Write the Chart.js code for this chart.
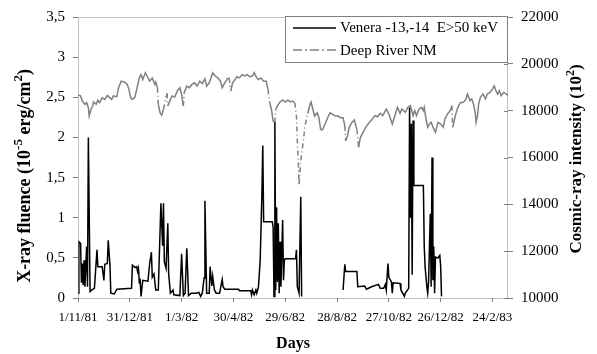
<!DOCTYPE html>
<html>
<head>
<meta charset="utf-8">
<script src="https://cdn.jsdelivr.net/npm/chart.js@4.4.1/dist/chart.umd.min.js"></script>
<style>
    html, body { margin: 0; padding: 0; background: #ffffff; }
    #contenedor { width: 597px; height: 354px; }
</style>
</head>
<body>
<div id="contenedor"><canvas id="grafica" width="597" height="354"></canvas></div>
<script>
// Días contados desde el 1/11/81
const etiquetasDias = ["1/11/81", "31/12/81", "1/3/82", "30/4/82", "29/6/82", "28/8/82", "27/10/82", "26/12/82", "24/2/83"];

// Venera -13,-14, fluencia de rayos X (10^-5 erg/cm^2)
const veneraDias = [0, 1, 3, 4, 5, 6, 7, 8, 10, 11, 12, 14, 16, 19, 22, 23, 28, 30, 31, 34, 35, 37, 38, 42, 45, 62, 63, 66, 68, 69, 70, 71, 72, 73, 75, 81, 83, 85, 86, 88, 90, 93, 96, 98, 99, 100, 102, 104, 105, 107, 110, 111, 118, 120, 122, 124, 126, 128, 131, 137, 140, 142, 144, 146, 147, 149, 152, 153, 155, 156, 158, 160, 164, 167, 168, 170, 186, 187, 200, 201, 202, 204, 206, 207, 209, 211, 213, 214, 215, 225, 226, 227, 228, 229, 230, 231, 232, 233, 234, 235, 237, 238, 239, 240, 252, 253, 254, 256, 258, 259, 280, 307, 309, 310, 323, 324, 332, 334, 340, 348, 350, 354, 356, 357, 359, 360, 363, 364, 365, 373, 374, 378, 379, 383, 384, 385, 386, 387, 388, 389, 400, 401, 402, 404, 405, 406, 408, 409, 410, 411, 412, 413, 414, 417, 419, 420, 421];
const veneraFluencia = [0.06, 0.70, 0.68, 0.19, 0.43, 0.16, 0.47, 0.14, 0.64, 0.14, 2.0, 0.08, 0.1, 0.12, 0.6, 0.39, 0.39, 0.22, 0.42, 0.43, 0.72, 0.41, 0.06, 0.05, 0.11, 0.12, 0.41, 0.38, 0.39, 0.33, 0.37, 0.2, 0.22, 0.02, 0.22, 0.21, 0.43, 0.57, 0.26, 0.3, 0.1, 0.1, 1.18, 0.65, 1.18, 0.45, 0.37, 0.93, 0.3, 0.06, 0.1, 0.04, 0.03, 0.55, 0.03, 0.06, 0.62, 0.03, 0.06, 0.06, 0.07, 0.02, 0.06, 0.25, 1.21, 0.06, 0.06, 0.39, 0.15, 0.27, 0.1, 0.06, 0.06, 0.23, 0.14, 0.11, 0.11, 0.09, 0.09, 0.04, 0.1, 0.04, 0.1, 0.06, 0.14, 0.47, 1.3, 1.9, 0.95, 0.95, 0.88, 0.02, 2.19, 0.1, 1.13, 0.2, 0.93, 0.06, 0.7, 0.14, 0.97, 0.22, 0.47, 0.49, 0.49, 0.6, 0.14, 0.06, 1.26, 0.02, null, 0.1, 0.42, 0.33, 0.33, 0.14, 0.15, 0.11, 0.14, 0.17, 0.12, 0.12, 0.17, 0.1, 0.43, 0.26, 0.2, 0.06, 0.19, 0.18, 0.1, 0.02, 0.06, 0.12, 2.37, 1.0, 2.17, 0.29, 2.21, 1.4, 1.4, 0.64, 0.39, 0.14, 0.06, 0.2, 1.05, 0.14, 1.75, 0.22, 0.64, 0.06, 0.51, 0.5, 0.53, 0.4, 0.02];

// Monitor de neutrones Deep River (10^2)
const deepRiverDias = [0, 3, 5, 8, 10, 12, 13, 15, 17, 18, 21, 23, 25, 28, 31, 34, 36, 39, 41, 45, 47, 50, 54, 57, 59, 61, 63, 66, 68, 71, 73, 75, 78, 80, 83, 86, 89, 90, 92, 93, 95, 97, 99, 102, 103, 104, 107, 109, 112, 115, 118, 120, 122, 123, 126, 129, 132, 135, 138, 141, 144, 147, 149, 152, 156, 159, 162, 165, 167, 169, 170, 173, 175, 177, 179, 182, 184, 187, 190, 193, 196, 199, 202, 204, 207, 209, 212, 215, 218, 220, 222, 224, 226, 228, 229, 232, 234, 237, 240, 243, 246, 249, 251, 253, 254, 255, 256, 258, 261, 263, 266, 269, 270, 272, 274, 277, 279, 281, 283, 286, 290, 292, 295, 298, 301, 304, 307, 309, 310, 312, 314, 317, 320, 323, 325, 327, 330, 333, 336, 340, 344, 347, 350, 353, 357, 360, 364, 367, 370, 373, 375, 379, 382, 385, 386, 388, 390, 392, 395, 398, 400, 401, 403, 405, 407, 409, 412, 414, 417, 420, 423, 425, 428, 431, 433, 434, 437, 440, 443, 446, 449, 451, 454, 456, 458, 460, 461, 463, 464, 466, 469, 472, 474, 477, 480, 482, 484, 486, 488, 490, 493, 496, 498];
const deepRiverIntensidad = [18670, 18630, 18410, 18270, 18340, 18130, 17770, 18060, 18200, 18370, 18270, 18440, 18340, 18550, 18480, 18650, 18580, 18480, 18630, 18600, 18980, 19260, 19220, 19120, 18910, 18550, 18480, 18580, 18910, 19400, 19540, 19330, 19620, 19480, 19260, 19400, 19120, 19220, 18980, 18270, 17910, 17800, 18060, 18630, 18740, 18200, 18480, 18630, 18580, 18840, 18980, 18690, 18200, 18770, 19050, 18980, 19120, 19190, 19050, 19260, 19160, 19360, 19050, 19190, 19620, 19480, 19400, 19260, 18980, 19120, 19190, 19360, 19400, 18840, 19190, 19330, 19450, 19400, 19540, 19480, 19540, 19450, 19480, 19620, 19400, 19330, 19400, 19260, 19260, 18910, 18340, 18060, 17560, 17490, 18060, 18270, 18370, 18460, 18370, 18460, 18370, 18410, 18340, 17770, 16720, 15870, 14810, 15870, 16720, 17360, 17870, 18300, 18370, 18060, 17770, 17910, 17700, 17200, 17180, 17420, 17770, 17910, 17840, 17770, 17770, 17700, 17700, 17350, 16710, 16920, 17280, 17490, 17600, 17200, 16430, 16850, 17060, 17280, 17430, 17600, 17790, 17740, 17890, 17790, 18070, 17860, 17430, 17790, 18140, 17890, 18070, 17930, 18140, 18210, 18070, 17790, 18000, 17790, 18070, 18140, 18000, 18140, 17650, 17290, 17430, 17500, 17220, 17080, 17500, 17430, 17290, 17650, 17860, 18000, 18210, 17290, 17790, 18140, 18350, 18350, 18460, 18710, 18430, 18500, 18290, 17930, 17500, 17860, 18290, 18570, 18710, 18500, 18710, 18780, 18920, 19060, 18850, 18710, 18850, 18640, 18780, 18710, 18640];

const familia = "'Liberation Serif', 'Times New Roman', serif";
const guionPunto = [5, 3, 1, 3];

function aPuntos(xs, ys) {
    return xs.map((d, i) => ({ x: d, y: ys[i] }));
}

// Texto con superíndices, centrado en (cx, cy) y girado
function textoRico(ctx, partes, size, cx, cy, angulo) {
    const normal = `bold ${size}px ${familia}`;
    const chica = `bold ${Math.round(size * 0.7)}px ${familia}`;
    ctx.save();
    ctx.translate(cx, cy);
    ctx.rotate(angulo);
    let total = 0;
    partes.forEach(p => {
        ctx.font = p.sup ? chica : normal;
        total += ctx.measureText(p.t).width;
    });
    let x = -total / 2;
    ctx.fillStyle = "#000";
    ctx.textAlign = "left";
    ctx.textBaseline = "middle";
    partes.forEach(p => {
        ctx.font = p.sup ? chica : normal;
        ctx.fillText(p.t, x, p.sup ? -size * 0.38 : 0);
        x += ctx.measureText(p.t).width;
    });
    ctx.restore();
}

const marcoPlugin = {
    id: "marco",
    afterDatasetsDraw(chart) {
        const { ctx, chartArea: a } = chart;
        ctx.save();
        ctx.strokeStyle = "#808080";
        ctx.lineWidth = 1;
        ctx.setLineDash([1, 1]);
        ctx.strokeRect(a.left + 0.5, a.top + 0.5, a.right - a.left - 1, a.bottom - a.top);
        ctx.setLineDash([]);
        // marcas interiores del eje derecho
        const der = chart.scales.yDer;
        der.ticks.forEach(t => {
            const y = Math.round(der.getPixelForValue(t.value)) + 0.5;
            ctx.beginPath();
            ctx.moveTo(a.right - 4, y);
            ctx.lineTo(a.right, y);
            ctx.stroke();
        });
        ctx.restore();
    },
    afterDraw(chart) {
        const { ctx } = chart;
        // leyenda
        ctx.save();
        const caja = { x: 285.5, y: 16.5, w: 222, h: 46 };
        ctx.fillStyle = "#ffffff";
        ctx.fillRect(caja.x, caja.y, caja.w, caja.h);
        ctx.strokeStyle = "#808080";
        ctx.lineWidth = 1;
        ctx.strokeRect(caja.x, caja.y, caja.w, caja.h);

        ctx.strokeStyle = "#000000";
        ctx.lineWidth = 1.5;
        ctx.beginPath();
        ctx.moveTo(293, 28);
        ctx.lineTo(336, 28);
        ctx.stroke();

        ctx.strokeStyle = "#808080";
        ctx.setLineDash([9, 3, 2, 3]);
        ctx.beginPath();
        ctx.moveTo(293, 50);
        ctx.lineTo(336, 50);
        ctx.stroke();
        ctx.setLineDash([]);

        ctx.fillStyle = "#000";
        ctx.font = `15px ${familia}`;
        ctx.textAlign = "left";
        ctx.textBaseline = "middle";
        ctx.fillText("Venera -13,-14  E>50 keV", 340, 28);
        ctx.fillText("Deep River NM", 340, 51);
        ctx.restore();

        // títulos de los ejes verticales
        textoRico(ctx, [
            { t: "X-ray fluence (10" }, { t: "-5", sup: true },
            { t: " erg/cm" }, { t: "2", sup: true }, { t: ")" }
        ], 18, 25, 176, -Math.PI / 2);
        textoRico(ctx, [
            { t: "Cosmic-ray intensity (10" }, { t: "2", sup: true }, { t: ")" }
        ], 17, 577, 159, -Math.PI / 2);
    }
};

Chart.defaults.font.family = familia;
Chart.defaults.color = "#000";

new Chart(document.getElementById("grafica"), {
    type: "line",
    data: {
        datasets: [
            {
                label: "Venera -13,-14  E>50 keV",
                data: aPuntos(veneraDias, veneraFluencia),
                yAxisID: "yIzq",
                borderColor: "#000000",
                borderWidth: 1.5,
                pointRadius: 0,
                tension: 0,
                spanGaps: false
            },
            {
                label: "Deep River NM",
                data: aPuntos(deepRiverDias, deepRiverIntensidad),
                yAxisID: "yDer",
                borderColor: "#808080",
                borderWidth: 1.5,
                pointRadius: 0,
                tension: 0,
                segment: {
                    borderDash: ctx => Math.hypot(ctx.p1.x - ctx.p0.x, ctx.p1.y - ctx.p0.y) > 12 ? guionPunto : undefined
                }
            }
        ]
    },
    options: {
        responsive: false,
        devicePixelRatio: 1,
        animation: false,
        layout: { padding: { top: 16, left: 0, right: 0, bottom: 0 } },
        plugins: {
            legend: { display: false },
            tooltip: { enabled: false }
        },
        scales: {
            x: {
                type: "linear",
                min: 0,
                max: 498,
                afterFit: s => { s.height = 56; },
                border: { display: false },
                grid: { drawOnChartArea: false, tickLength: 4, color: "#808080" },
                ticks: {
                    stepSize: 60,
                    includeBounds: false,
                    autoSkip: false,
                    maxRotation: 0,
                    padding: 8,
                    font: { size: 13 },
                    callback: v => etiquetasDias[v / 60] ?? ""
                },
                title: {
                    display: true,
                    text: "Days",
                    font: { size: 16, weight: "bold" },
                    padding: { top: 0, bottom: 1 }
                }
            },
            yIzq: {
                position: "left",
                min: 0,
                max: 3.5,
                afterFit: s => { s.width = 78; },
                border: { display: false },
                grid: { drawOnChartArea: false, tickLength: 5, color: "#808080" },
                ticks: {
                    stepSize: 0.5,
                    padding: 8,
                    font: { size: 15 },
                    callback: v => String(v).replace(".", ",")
                }
            },
            yDer: {
                position: "right",
                min: 10000,
                max: 22000,
                afterFit: s => { s.width = 89; },
                border: { display: false },
                grid: { drawOnChartArea: false, tickLength: 5, color: "#808080" },
                ticks: {
                    stepSize: 2000,
                    padding: 8,
                    font: { size: 15 },
                    callback: v => String(v)
                }
            }
        }
    },
    plugins: [marcoPlugin]
});
</script>
</body>
</html>
